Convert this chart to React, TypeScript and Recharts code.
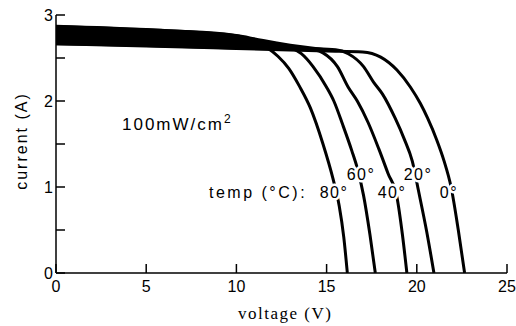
import { Area, ComposedChart, Line, XAxis, YAxis } from "recharts";

// I-V curves of a solar panel at 100mW/cm2, one per cell temperature
const V_80 = [0, 5, 10, 11, 11.7, 12.3, 12.9, 13.5, 14.1, 14.8, 15.35, 15.7, 15.95, 16.15];
const I_80 = [2.87, 2.83, 2.76, 2.69, 2.62, 2.52, 2.38, 2.17, 1.92, 1.5, 1.1, 0.78, 0.42, 0];

const V_60 = [0, 5, 10, 12, 13, 13.6, 14.25, 15, 15.4, 15.9, 16.4, 16.7, 17.05, 17.4, 17.7];
const I_60 = [2.82, 2.78, 2.72, 2.67, 2.62, 2.55, 2.4, 2.16, 2.0, 1.72, 1.42, 1.22, 0.9, 0.45, 0];

const V_40 = [0, 5, 10, 13, 14.2, 14.8, 15.6, 16.2, 16.7, 17.3, 17.9, 18.4, 18.9, 19.2, 19.45];
const I_40 = [2.77, 2.73, 2.68, 2.63, 2.6, 2.56, 2.4, 2.16, 2.0, 1.75, 1.44, 1.16, 0.88, 0.45, 0];

const V_20 = [0, 5, 10, 14, 15.5, 16.2, 17.05, 17.6, 18.1, 18.8, 19.3, 19.75, 20.1, 20.55, 20.95];
const I_20 = [2.72, 2.69, 2.645, 2.61, 2.595, 2.55, 2.4, 2.22, 2.08, 1.8, 1.56, 1.3, 0.95, 0.48, 0];

const V_0 = [0, 5, 10, 15, 17, 18, 18.9, 19.65, 20.2, 20.6, 21.1, 21.5, 21.9, 22.3, 22.65];
const I_0 = [2.665, 2.64, 2.61, 2.58, 2.57, 2.51, 2.36, 2.16, 1.97, 1.8, 1.55, 1.31, 1.0, 0.5, 0];

// the curves overlap into one thick band at low voltage
const BAND_V = [0, 5, 10, 11.5, 13, 14.5, 16];
const BAND_LO = [2.648, 2.628, 2.6, 2.595, 2.59, 2.583, 2.578];
const BAND_HI = [2.885, 2.845, 2.78, 2.72, 2.665, 2.625, 2.585];

const X_TICKS = [0, 5, 10, 15, 20, 25];
const Y_TICKS = [0, 0.5, 1, 1.5, 2, 2.5, 3];

const toPoints = (vs: number[], is: number[]) => vs.map((v, k) => ({ v, i: is[k] }));

const curves = [
  { name: "80", data: toPoints(V_80, I_80) },
  { name: "60", data: toPoints(V_60, I_60) },
  { name: "40", data: toPoints(V_40, I_40) },
  { name: "20", data: toPoints(V_20, I_20) },
  { name: "0", data: toPoints(V_0, I_0) },
];

const band = BAND_V.map((v, k) => ({ v, range: [BAND_LO[k], BAND_HI[k]] }));

const SANS = "'Liberation Sans', Arial, sans-serif";
const SERIF = "'Liberation Serif', 'Times New Roman', serif";

const tickStyle = { fill: "#000", fontSize: 16, fontFamily: SANS };

// white halo so the labels cut through the curves like in the print
const halo = { stroke: "#fff", strokeWidth: 5, paintOrder: "stroke" as const };

export default function App() {
  return (
    <div style={{ position: "absolute", left: 0, top: 0, width: 516, height: 326, background: "#fff" }}>
      <ComposedChart width={516} height={326} margin={{ top: 15, right: 9, left: 0, bottom: 0 }}>
        <XAxis
          type="number"
          dataKey="v"
          domain={[0, 25]}
          ticks={X_TICKS}
          allowDataOverflow
          height={53}
          tick={tickStyle}
          tickSize={-9}
          tickMargin={17}
          axisLine={{ stroke: "#000", strokeWidth: 1.5 }}
          tickLine={{ stroke: "#000", strokeWidth: 1.5 }}
        />
        <YAxis
          type="number"
          domain={[0, 3]}
          ticks={Y_TICKS}
          allowDataOverflow
          width={56}
          tick={tickStyle}
          tickSize={-9}
          tickMargin={12}
          tickFormatter={(t: number) => (Number.isInteger(t) ? String(t) : "")}
          axisLine={{ stroke: "#000", strokeWidth: 1.5 }}
          tickLine={{ stroke: "#000", strokeWidth: 1.5 }}
        />
        <Area
          data={band}
          dataKey="range"
          type="monotone"
          fill="#000"
          fillOpacity={1}
          stroke="none"
          isAnimationActive={false}
        />
        {curves.map((c) => (
          <Line
            key={c.name}
            data={c.data}
            dataKey="i"
            type="monotone"
            stroke="#000"
            strokeWidth={3}
            dot={false}
            isAnimationActive={false}
          />
        ))}
      </ComposedChart>
      <svg
        width={516}
        height={326}
        style={{ position: "absolute", left: 0, top: 0, pointerEvents: "none" }}
      >
        <text
          transform="translate(21,141) rotate(-90)"
          textAnchor="middle"
          dominantBaseline="central"
          fontFamily={SANS}
          fontSize={16}
          letterSpacing={2}
        >
          current (A)
        </text>
        <text x={238} y={319} fontFamily={SERIF} fontSize={17} letterSpacing={1.5}>
          voltage (V)
        </text>
        <text x={122} y={130} fontFamily={SANS} fontSize={17} letterSpacing={2}>
          100mW/cm
          <tspan dy={-7} fontSize={12}>2</tspan>
        </text>
        <text x={209} y={198} fontFamily={SANS} fontSize={16} letterSpacing={2.5}>
          temp (°C):
        </text>
        <g fontFamily={SANS} fontSize={16} letterSpacing={1.5} textAnchor="middle" {...halo}>
          <text x={334} y={198}>80°</text>
          <text x={361} y={180}>60°</text>
          <text x={392} y={198}>40°</text>
          <text x={418} y={180}>20°</text>
          <text x={449} y={198}>0°</text>
        </g>
      </svg>
    </div>
  );
}
